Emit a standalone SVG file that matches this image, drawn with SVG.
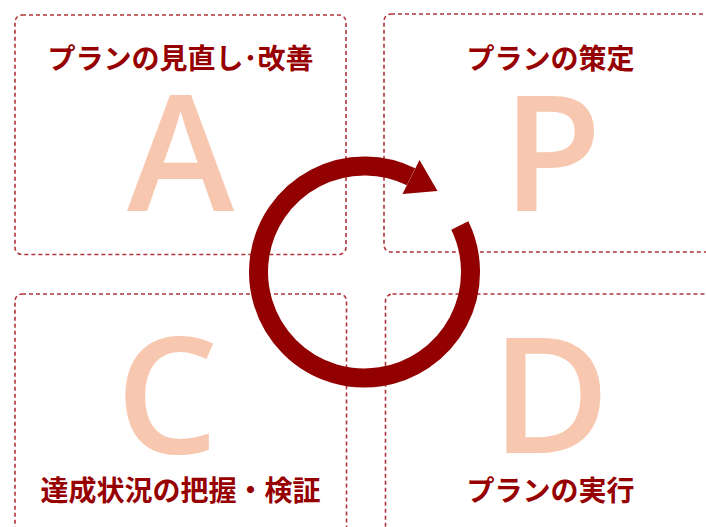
<svg xmlns="http://www.w3.org/2000/svg" width="706" height="527" viewBox="0 0 706 527">
  <style>
    .box { fill: none; stroke: #B0343A; stroke-width: 1.6; stroke-dasharray: 4 3; }
    .title { font-family: "Noto Sans CJK JP", "Noto Sans", sans-serif; font-weight: bold; font-size: 28px; fill: #960000; text-anchor: middle; }
    .big { font-family: "Open Sans", "Noto Sans", sans-serif; font-weight: 600; font-size: 162px; fill: #F7C8AF; text-anchor: middle; }
    .ring { fill: none; stroke: #920000; stroke-width: 19; }
    .head { fill: #920000; }
  </style>
  <rect width="706" height="527" fill="#FFFFFF"/>
  <g id="node-A">
    <rect class="box" x="15" y="15" width="331" height="239.5" rx="7"/>
    <text class="title" x="180.5" y="69">プランの見直し･改善</text>
    <text class="big" x="180.5" y="210.5">A</text>
  </g>
  <g id="node-P">
    <rect class="box" x="384" y="14" width="333" height="238" rx="7"/>
    <text class="title" x="550.5" y="69">プランの策定</text>
    <text class="big" x="552" y="210.5">P</text>
  </g>
  <g id="node-C">
    <rect class="box" x="15" y="294" width="331.5" height="250" rx="7"/>
    <text class="big" x="167" y="453">C</text>
    <text class="title" x="180.5" y="501">達成状況の把握・検証</text>
  </g>
  <g id="node-D">
    <rect class="box" x="385.5" y="294" width="333" height="250" rx="7"/>
    <text class="big" x="550.5" y="453">D</text>
    <text class="title" x="550.5" y="501">プランの実行</text>
  </g>
  <g id="connectors">
    <path class="ring" d="M 459.8 225.5 A 106 106 0 1 1 411 176.7"/>
    <polygon class="head" points="402.5,194 419.5,160 437.5,191"/>
  </g>
</svg>
